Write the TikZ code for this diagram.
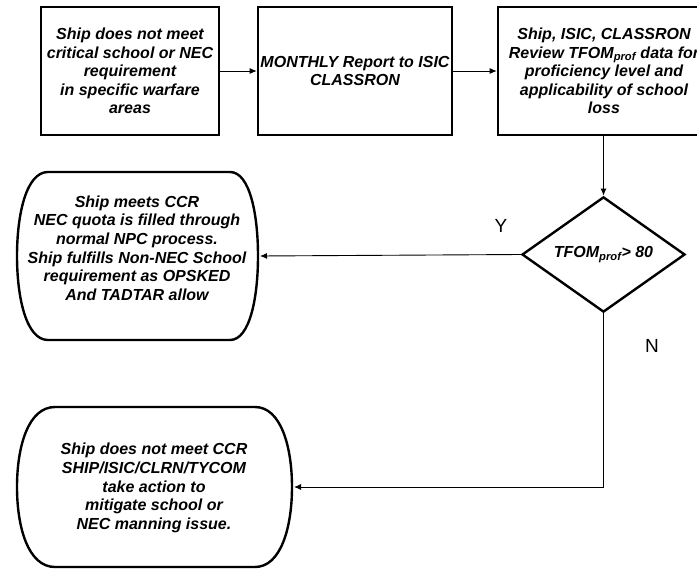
\documentclass[tikz,border=0pt]{standalone}
\usepackage{fontspec}
\setmainfont{Liberation Sans}
\usetikzlibrary{shapes.geometric,arrows.meta}
\begin{document}
\begin{tikzpicture}[x=1pt,y=-1pt,
  txt/.style={font=\fontsize{16}{18.6}\selectfont\bfseries\itshape, align=center, inner sep=0pt},
  procbox/.style={draw, line width=2.6pt, txt},
  decide/.style={draw, diamond, line width=2.4pt, inner sep=0pt, txt},
  term/.style={line width=2.4pt},
  conn/.style={line width=0.9pt, -{Latex[length=7pt,width=6pt]}},
  lbl/.style={font=\fontsize{19}{22}\selectfont, inner sep=0pt}]
\useasboundingbox (0,0) rectangle (697,570);
\fill[white] (0,0) rectangle (697,570);

% top boxes
\node[procbox, minimum width=178pt, minimum height=128pt] (b1) at (130,71)
  {Ship does not meet\\critical school or NEC\\requirement\\in specific warfare\\areas};
\node[procbox, minimum width=194pt, minimum height=128pt] (b2) at (355,71)
  {MONTHLY Report to ISIC\\CLASSRON};
\node[procbox, minimum width=220pt, minimum height=128pt] (b3) at (608,71)
  {\hspace*{-8pt}Ship, ISIC, CLASSRON\\\hspace*{-8pt}Review TFOM\textsubscript{prof} data for\\\hspace*{-8pt}proficiency level and\\\hspace*{-8pt}applicability of school\\\hspace*{-8pt}loss};

% decision
\node[decide, minimum width=163pt, minimum height=113pt] (d) at (603.5,254.5)
  {TFOM\textsubscript{prof}> 80};

% terminator 1
\draw[term] (48,172) -- (230,172)
  .. controls (250,172) and (258,215) .. (258,256)
  .. controls (258,297) and (250,340) .. (230,340)
  -- (48,340)
  .. controls (26,340) and (17,297) .. (17,256)
  .. controls (17,215) and (26,172) .. (48,172);
\node[txt] (s1) at (137,248)
  {Ship meets CCR\\NEC quota is filled through\\normal NPC process.\\Ship fulfills Non-NEC School\\requirement as OPSKED\\And TADTAR allow};
\coordinate (s1e) at (260,256);

% terminator 2
\draw[term] (55,407) -- (255,407)
  .. controls (281,407) and (292,447) .. (292,487)
  .. controls (292,527) and (281,567) .. (255,567)
  -- (55,567)
  .. controls (28,567) and (17,527) .. (17,487)
  .. controls (17,447) and (28,407) .. (55,407);
\node[txt] (s2) at (154,488)
  {Ship does not meet CCR\\SHIP/ISIC/CLRN/TYCOM\\take action to\\mitigate school or\\NEC manning issue.};
\coordinate (s2e) at (294,487);

% connectors
\draw[conn] (b1.east) -- (b2.west);
\draw[conn] (b2.east) -- (b3.west);
\draw[conn] (b3.south -| d.north) -- (d.north);
\draw[conn] (d.west) -- (s1e);
\draw[conn] (d.south) -- (d.south |- s2e) -- (s2e);

% labels
\node[lbl] (ylab) at (501,226) {Y};
\node[lbl] (nlab) at (652,346) {N};
\end{tikzpicture}
\end{document}
